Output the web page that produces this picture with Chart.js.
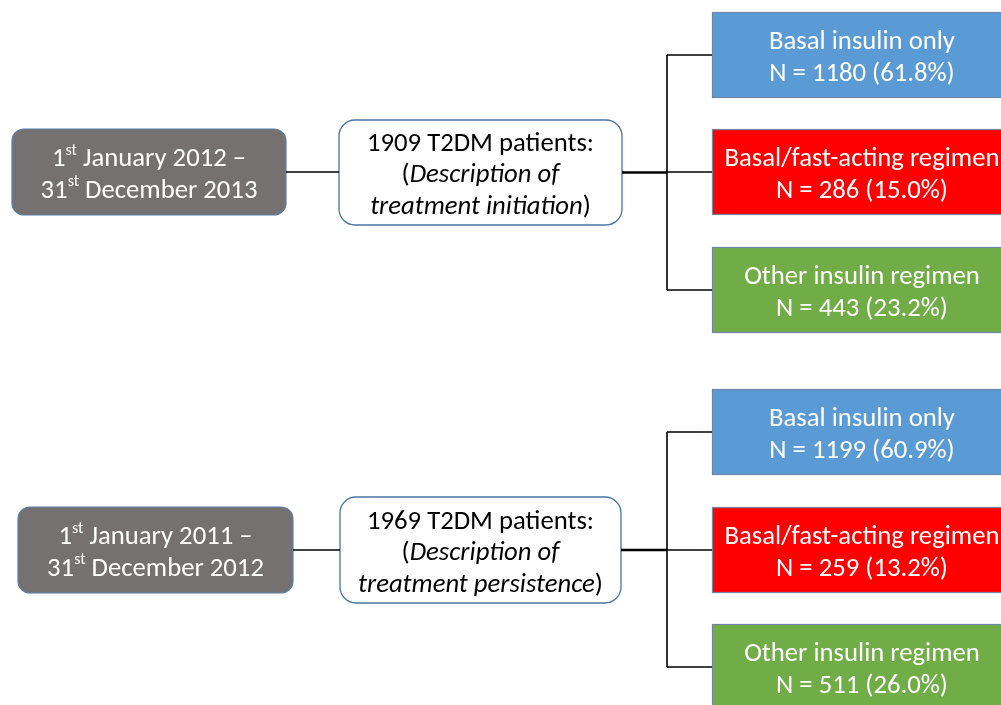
<!DOCTYPE html>
<html>
<head>
<meta charset="utf-8">
<script src="https://cdn.jsdelivr.net/npm/chart.js@4"></script>
<style>
html,body{margin:0;padding:0;background:#fff;}
#wrap{width:1001px;height:705px;position:relative;}
canvas{display:block;}
</style>
</head>
<body>
<div id="wrap"><canvas id="c" width="1001" height="705"></canvas></div>
<script>
// ---- data ----
const periodStartYears = [2012, 2011];
const periodEndYears = [2013, 2012];
const cohortSizes = [1909, 1969];
const cohortPurposes = ["treatment initiation", "treatment persistence"];
const regimenNames = ["Basal insulin only", "Basal/fast-acting regimen", "Other insulin regimen"];
const regimenColors = ["#5b9bd5", "#ff0000", "#70ad47"];
const initiationCounts = [1180, 286, 443];
const initiationPercents = ["61.8", "15.0", "23.2"];
const persistenceCounts = [1199, 259, 511];
const persistencePercents = ["60.9", "13.2", "26.0"];

// ---- layout (diagram geometry, in scale units) ----
const sections = [
  {period:{x0:12,x1:286,y0:129,y1:215}, cohort:{x0:339,x1:622,y0:120,y1:225}, branchTops:[12,129,247], counts:initiationCounts, pcts:initiationPercents},
  {period:{x0:18,x1:293,y0:507,y1:593}, cohort:{x0:340,x1:621,y0:497,y1:603}, branchTops:[389,507,624], counts:persistenceCounts, pcts:persistencePercents}
];
const branchX = 667, boxX0 = 712, boxX1 = 1012, boxH = 86;
const TEXT_SHIFT = 3;

// connector datasets built from layout
const datasets = [];
sections.forEach(s => {
  const cy = (s.period.y0 + s.period.y1) / 2;
  const ccy = (s.cohort.y0 + s.cohort.y1) / 2;
  const mids = s.branchTops.map(t => t + boxH / 2);
  const seg = (pts, w) => datasets.push({type:'line', data:pts, borderColor:'#000', borderWidth:w, pointRadius:0, fill:false, tension:0});
  seg([{x:s.period.x1,y:cy},{x:s.cohort.x0,y:cy}], 1.6);
  seg([{x:s.cohort.x1,y:ccy},{x:branchX,y:ccy}], 2.6);
  seg([{x:branchX,y:mids[0]},{x:branchX,y:mids[2]}], 1.6);
  mids.forEach(m => seg([{x:branchX,y:m},{x:boxX0,y:m}], 1.6));
});

const FAMILY = 'Calibri, Carlito, Lato, "Open Sans", sans-serif';
let FS = 26;

function rr(ctx, x, y, w, h, r) {
  ctx.beginPath();
  ctx.moveTo(x + r, y);
  ctx.lineTo(x + w - r, y);
  ctx.arcTo(x + w, y, x + w, y + r, r);
  ctx.lineTo(x + w, y + h - r);
  ctx.arcTo(x + w, y + h, x + w - r, y + h, r);
  ctx.lineTo(x + r, y + h);
  ctx.arcTo(x, y + h, x, y + h - r, r);
  ctx.lineTo(x, y + r);
  ctx.arcTo(x, y, x + r, y, r);
  ctx.closePath();
}
function fontFor(style) {
  if (style === 'sup') return `${Math.round(FS*0.6)}px ${FAMILY}`;
  if (style === 'italic') return `italic ${FS}px ${FAMILY}`;
  return `${FS}px ${FAMILY}`;
}
function drawRich(ctx, parts, cx, y, color) {
  y += TEXT_SHIFT;
  let total = 0;
  parts.forEach(p => { ctx.font = fontFor(p.s); total += ctx.measureText(p.t).width; });
  let x = cx - total / 2;
  ctx.fillStyle = color;
  ctx.textAlign = 'left';
  ctx.textBaseline = 'middle';
  parts.forEach(p => {
    ctx.font = fontFor(p.s);
    const yy = p.s === 'sup' ? y - FS * 0.32 : y;
    ctx.fillText(p.t, x, yy);
    x += ctx.measureText(p.t).width;
  });
}

const diagramPlugin = {
  id: 'diagram',
  beforeDatasetsDraw(chart) {
    const ctx = chart.ctx, xs = chart.scales.x, ys = chart.scales.y;
    const px = v => xs.getPixelForValue(v), py = v => ys.getPixelForValue(v);
    ctx.save();
    ctx.font = `100px ${FAMILY}`;
    FS = Math.round(100 * 186 / ctx.measureText(regimenNames[0]).width * 10) / 10;
    sections.forEach((s, i) => {
      // period box
      const p = s.period;
      rr(ctx, px(p.x0), py(p.y0), px(p.x1) - px(p.x0), py(p.y1) - py(p.y0), 12);
      ctx.fillStyle = '#767171'; ctx.fill();
      ctx.strokeStyle = '#5a7fa8'; ctx.lineWidth = 1.2; ctx.stroke();
      const pcx = (px(p.x0) + px(p.x1)) / 2, pcy = (py(p.y0) + py(p.y1)) / 2;
      drawRich(ctx, [{t:'1',s:'n'},{t:'st',s:'sup'},{t:' January ' + periodStartYears[i] + ' –',s:'n'}], pcx, pcy - 15.5, '#fff');
      drawRich(ctx, [{t:'31',s:'n'},{t:'st',s:'sup'},{t:' December ' + periodEndYears[i],s:'n'}], pcx, pcy + 16, '#fff');
      // cohort box
      const c = s.cohort;
      rr(ctx, px(c.x0), py(c.y0), px(c.x1) - px(c.x0), py(c.y1) - py(c.y0), 16);
      ctx.fillStyle = '#fff'; ctx.fill();
      ctx.strokeStyle = '#4a74a4'; ctx.lineWidth = 1.3; ctx.stroke();
      const ccx = (px(c.x0) + px(c.x1)) / 2, ccy = (py(c.y0) + py(c.y1)) / 2;
      drawRich(ctx, [{t:cohortSizes[i] + ' T2DM patients:',s:'n'}], ccx, ccy - 31, '#000');
      drawRich(ctx, [{t:'(',s:'n'},{t:'Description of',s:'italic'}], ccx, ccy, '#000');
      drawRich(ctx, [{t:cohortPurposes[i],s:'italic'},{t:')',s:'n'}], ccx, ccy + 32, '#000');
      // regimen boxes
      s.branchTops.forEach((t, j) => {
        const x0 = px(boxX0), y0 = py(t), w = px(boxX1) - x0, h = py(t + boxH) - y0;
        ctx.fillStyle = regimenColors[j];
        ctx.fillRect(x0, y0, w, h);
        ctx.strokeStyle = '#6f86a6'; ctx.lineWidth = 1.2;
        ctx.strokeRect(x0 + 0.5, y0 + 0.5, w, h - 1);
        const bcx = (px(boxX0) + px(boxX1)) / 2, bcy = y0 + h / 2;
        drawRich(ctx, [{t:regimenNames[j],s:'n'}], bcx, bcy - 15.5, '#fff');
        drawRich(ctx, [{t:'N = ' + s.counts[j] + ' (' + s.pcts[j] + '%)',s:'n'}], bcx, bcy + 16, '#fff');
      });
    });
    ctx.restore();
  }
};

new Chart(document.getElementById('c'), {
  type: 'scatter',
  data: { datasets },
  options: {
    responsive: false,
    animation: false,
    events: [],
    layout: { padding: 0 },
    plugins: { legend: { display: false }, tooltip: { enabled: false } },
    scales: {
      x: { type: 'linear', min: 0, max: 1001, display: false },
      y: { type: 'linear', min: 0, max: 705, reverse: true, display: false }
    }
  },
  plugins: [diagramPlugin]
});
</script>
</body>
</html>
